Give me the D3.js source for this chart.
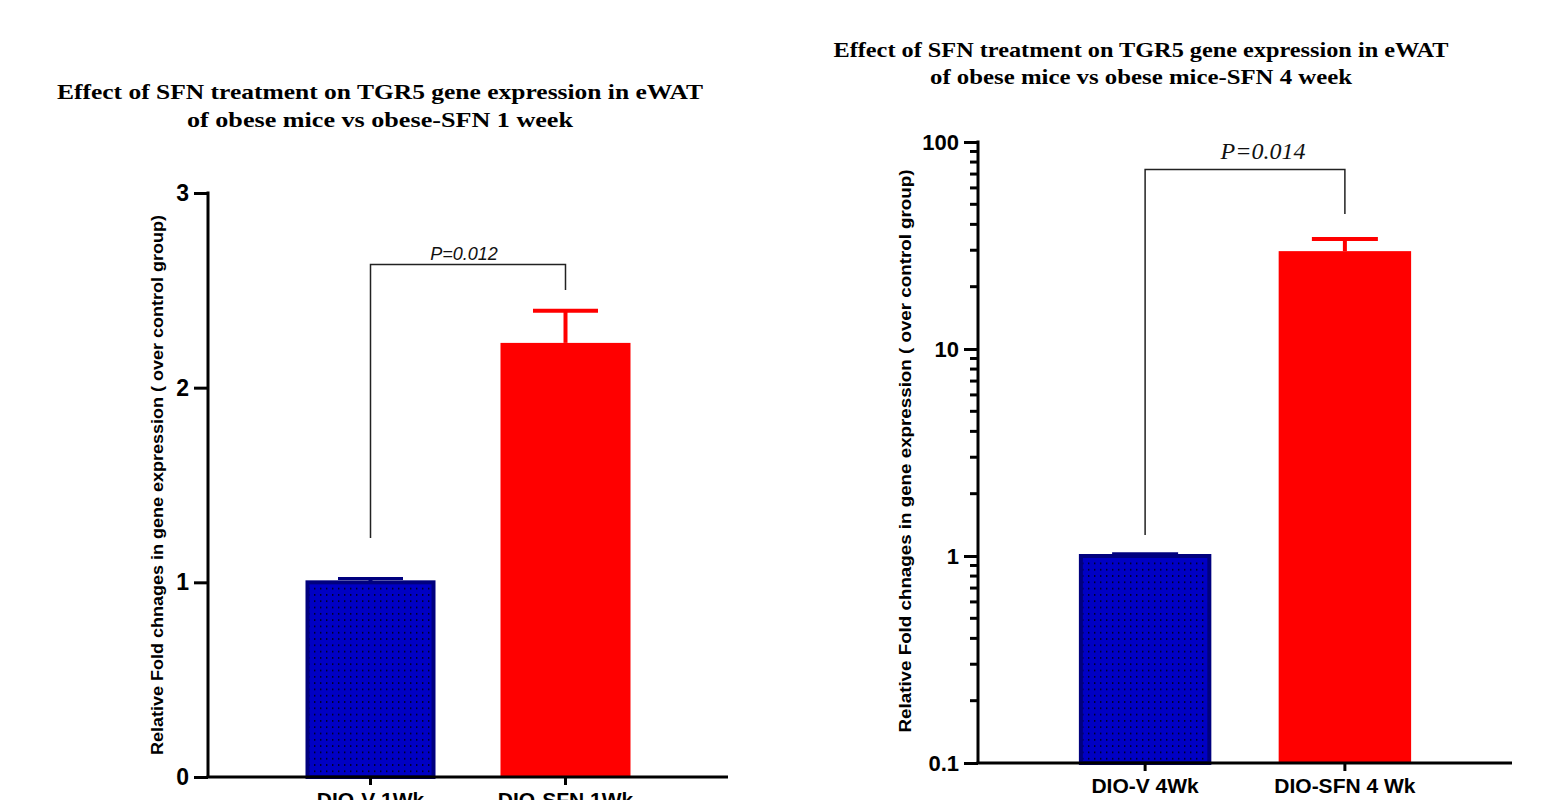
<!DOCTYPE html>
<html><head><meta charset="utf-8">
<script src="https://cdn.jsdelivr.net/npm/d3@7"></script>
<style>body{margin:0;background:#fff}svg{display:block}</style>
</head><body>
<svg id="c" width="1551" height="800"></svg>
<script>
// ---- data ----
const titles1 = ["Effect of SFN treatment on TGR5 gene expression in eWAT", "of obese mice vs obese-SFN 1 week"];
const titles2 = ["Effect of SFN treatment on TGR5 gene expression in eWAT", "of obese mice vs obese mice-SFN 4 week"];
const yLabel = "Relative Fold chnages in gene expression ( over control group)";
const cats1 = ["DIO-V 1Wk", "DIO-SFN 1Wk"];
const means1 = [1.0, 2.23];
const errs1 = [0.02, 0.165];
const ticks1 = [0, 1, 2, 3];
const pval1 = "P=0.012";
const cats2 = ["DIO-V 4Wk", "DIO-SFN 4 Wk"];
const means2 = [1.0, 29.7];
const errs2 = [0.025, 4.3];
const ticks2 = [0.1, 1, 10, 100];
const tickLabels2 = ["0.1", "1", "10", "100"];
const minor2 = [0.2,0.3,0.4,0.5,0.6,0.7,0.8,0.9,2,3,4,5,6,7,8,9,20,30,40,50,60,70,80,90];
const pval2 = "P=0.014";

const svg = d3.select("#c");
const defs = svg.append("defs");
const pat = defs.append("pattern").attr("id","dots").attr("patternUnits","userSpaceOnUse")
  .attr("width",6).attr("height",6.3);
pat.append("rect").attr("width",6).attr("height",6.3).attr("fill","#0000c4");
pat.append("rect").attr("x",2).attr("y",2).attr("width",1.4).attr("height",1.4).attr("fill","#000");

const sans = "'Liberation Sans', Arial, sans-serif";
const serif = "'Liberation Serif', 'Times New Roman', serif";
const fills = ["url(#dots)", "#ff0000"];
const strokes = ["#00007e", "#ff0000"];
const errCol = ["#00007e", "#ff0000"];

function title(lines, cx, ys, lens){
  lines.forEach((t,i)=>svg.append("text").attr("x",cx).attr("y",ys[i]).attr("text-anchor","middle")
    .attr("font-family",serif).attr("font-weight","bold").attr("font-size",22)
    .attr("textLength",lens[i]).attr("lengthAdjust","spacingAndGlyphs").text(t));
}

function chart(o){
  const g = svg.append("g");
  const x = d3.scaleBand().domain(o.cats).range([o.x0,o.x1]).paddingInner(o.pi).paddingOuter(o.po);
  const y = o.y;
  // bars
  o.cats.forEach((c,i)=>{
    const v = o.means[i];
    const top = y(v), bot = y(o.base);
    if(i===0){
      g.append("rect").attr("x",x(c)+2).attr("y",top).attr("width",x.bandwidth()-4).attr("height",bot-top)
        .attr("fill",fills[i]).attr("stroke",strokes[i]).attr("stroke-width",4);
    } else {
      g.append("rect").attr("x",x(c)).attr("y",top).attr("width",x.bandwidth()).attr("height",bot-top).attr("fill",fills[i]);
    }
    const cx = x(c)+x.bandwidth()/2;
    const ey = y(v+o.errs[i]);
    g.append("line").attr("x1",cx).attr("x2",cx).attr("y1",ey).attr("y2",top).attr("stroke",errCol[i]).attr("stroke-width",4);
    g.append("line").attr("x1",cx-o.cap).attr("x2",cx+o.cap).attr("y1",ey).attr("y2",ey).attr("stroke",errCol[i]).attr("stroke-width",i===0?3:4);
  });
  // y axis
  const ya = d3.axisLeft(y).tickValues(o.ticks).tickSize(o.tickLen).tickPadding(5)
    .tickFormat((d,i)=>o.tickLabels ? o.tickLabels[i] : d);
  const yg = g.append("g").attr("transform",`translate(${o.x0},0)`).call(ya);
  yg.select(".domain").attr("stroke","#000").attr("stroke-width",3).attr("d",`M0,${y.range()[1]-1.5}V${y.range()[0]}`);
  yg.selectAll(".tick line").attr("stroke","#000").attr("stroke-width",3);
  yg.selectAll(".tick text").attr("font-family",sans).attr("font-weight","bold").attr("font-size",o.tickFont).attr("fill","#000");
  if(o.minor){
    o.minor.forEach(m=>g.append("line").attr("x1",o.x0-8).attr("x2",o.x0).attr("y1",y(m)).attr("y2",y(m))
      .attr("stroke","#000").attr("stroke-width",3));
  }
  // x axis
  const xa = d3.axisBottom(x).tickSize(8).tickPadding(7);
  const xg = g.append("g").attr("transform",`translate(0,${y(o.base)})`).call(xa);
  xg.select(".domain").attr("stroke","#000").attr("stroke-width",3).attr("d",`M${o.x0-1.5},0H${o.x1}`);
  xg.selectAll(".tick line").attr("stroke","#000").attr("stroke-width",3);
  xg.selectAll(".tick text").attr("font-family",sans).attr("font-weight","bold").attr("font-size",21).attr("fill","#000").attr("dy","0.72em");
  // y label
  g.append("text").attr("transform",`translate(${o.ylx},${o.yly}) rotate(-90)`).attr("text-anchor","middle")
    .attr("font-family",sans).attr("font-weight","bold").attr("font-size",16).attr("textLength",o.ylLen).attr("lengthAdjust","spacingAndGlyphs")
    .text(yLabel);
  // bracket
  const c0 = x(o.cats[0])+x.bandwidth()/2, c1 = x(o.cats[1])+x.bandwidth()/2;
  g.append("path").attr("d",`M${c0},${o.bl}V${o.bt}H${c1}V${o.br}`).attr("fill","none").attr("stroke","#222").attr("stroke-width",1.5);
  g.append("text").attr("x",(c0+c1)/2 + o.pdx).attr("y",o.bt-o.pdy).attr("text-anchor","middle")
    .attr("font-family",o.pFont).attr("font-style","italic").attr("font-size",o.pSize).attr("fill","#111").text(o.p);
}

title(titles1, 380, [99, 127], [646, 386]);
title(titles2, 1141, [57, 84], [615, 422]);

chart({cats:cats1, means:means1, errs:errs1, base:0, ticks:ticks1,
  y:d3.scaleLinear().domain([0,3]).range([777,193]),
  x0:208, x1:728, pi:0.3333, po:0.5, cap:32.5, tickLen:14, tickFont:23,
  ylx:163, yly:485, ylLen:540, bl:538, bt:264.5, br:290, p:pval1, pFont:sans, pSize:18, pdx:-4, pdy:5});

chart({cats:cats2, means:means2, errs:errs2, base:0.1, ticks:ticks2, tickLabels:tickLabels2, minor:minor2,
  y:d3.scaleLog().domain([0.1,100]).range([763,142]),
  x0:978, x1:1512, pi:0.337, po:0.505, cap:33, tickLen:14, tickFont:22,
  ylx:911, yly:451, ylLen:563, bl:535, bt:169.5, br:214, p:pval2, pFont:serif, pSize:24, pdx:18, pdy:11});
</script>
</body></html>
